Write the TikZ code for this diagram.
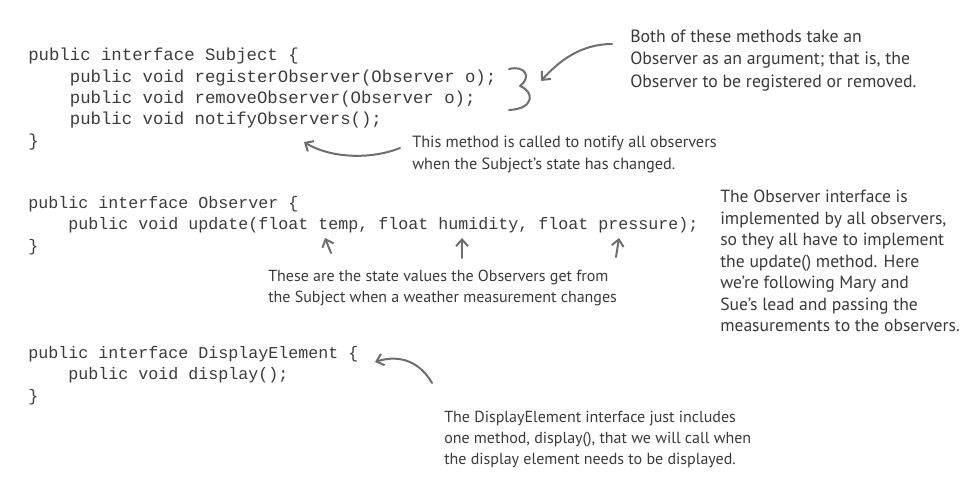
\documentclass[tikz,border=0pt]{standalone}
\usepackage{fontspec}
\setmonofont{Liberation Mono}
\newfontfamily\handfont{PT Sans}
\usetikzlibrary{arrows.meta}

\definecolor{codegray}{HTML}{3C3C3C}
\definecolor{notegray}{HTML}{3A3A3A}
\definecolor{arrowgray}{HTML}{6E6E6E}
\newcommand{\codeindent}{\hspace*{2.4em}}

\tikzset{
  code/.style={anchor=north west, inner sep=0pt, align=left, text=codegray,
    font=\ttfamily\fontsize{#1}{16}\selectfont},
  note/.style 2 args={anchor=north west, inner sep=0pt, align=left, text=notegray,
    font=\handfont\fontsize{#1}{#2}\selectfont},
  pointer/.style={draw=arrowgray, line width=1.5pt, line cap=round, line join=round,
    -{Straight Barb[length=5pt,width=9pt]}},
}

\begin{document}
\begin{tikzpicture}[x=0.75pt, y=-0.75pt]
    \useasboundingbox (0,0) rectangle (975,486);

    % the three interfaces
    \node[code=13] (Subject) at (28,48) {public interface Subject \{\\
      \codeindent public void registerObserver(Observer o);\\
      \codeindent public void removeObserver(Observer o);\\
      \codeindent public void notifyObservers();\\
      \}};
    \node[code=12.5] (Observer) at (28,196) {public interface Observer \{\\
      \codeindent public void update(float temp, float humidity, float pressure);\\
      \}};
    \node[code=12.5] (Display) at (28,346) {public interface DisplayElement \{\\
      \codeindent public void display();\\
      \}};

    % notes
    \node[note={13.3}{17}] (both) at (630,29.5) {Both of these methods take an\\
      Observer as an argument; that is, the\\
      Observer to be registered or removed.};
    \node[note={12.2}{16.3}] (notify) at (412,135.5) {This method is called to notify all observers\\
      when the Subject’s state has changed.};
    \node[note={13.2}{16.1}] (implement) at (720,190) {The Observer interface is\\
      implemented by all observers,\\
      so they all have to implement\\
      the update() method.  Here\\
      we’re following Mary and\\
      Sue’s lead and passing the\\
      measurements to the observers.};
    \node[note={12}{15.6}] (values) at (268,270) {These are the state values the Observers get from\\
      the Subject when a weather measurement changes};
    \node[note={12}{15.8}] (shows) at (444,411) {The DisplayElement interface just includes\\
      one method, display(), that we will call when\\
      the display element needs to be displayed.};

    % arrow ends
    \coordinate (bothtail) at (612,44);
    \coordinate (bothtip) at (541,81);
    \coordinate (notifytail) at (400,148);
    \coordinate (notifytip) at (304,142);
    \coordinate (temptail) at (331,253);
    \coordinate (temptip) at (325,238);
    \coordinate (humtail) at (462,258);
    \coordinate (humtip) at (462,238);
    \coordinate (prestail) at (616,257);
    \coordinate (prestip) at (619,238);
    \coordinate (showtail) at (432,383);
    \coordinate (showtip) at (375,362);

    % brace by the two methods
    \draw[arrowgray, line width=1.5pt, line cap=round, line join=round]
      (509,69) .. controls (525,65) and (532,77) .. (520,86)
      .. controls (535,92) and (534,109) .. (509,110);

    \draw[pointer] (bothtail) .. controls (580,44) and (558,62) .. (bothtip);
    \draw[pointer] (notifytail) .. controls (370,160) and (330,158) .. (notifytip);
    \draw[pointer] (temptail) -- (temptip);
    \draw[pointer] (humtail) -- (humtip);
    \draw[pointer] (prestail) -- (prestip);
    \draw[pointer] (showtail) .. controls (420,362) and (400,354) .. (showtip);
\end{tikzpicture}
\end{document}
